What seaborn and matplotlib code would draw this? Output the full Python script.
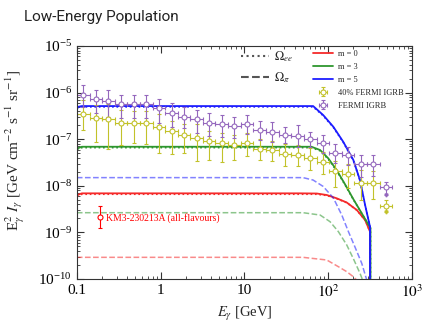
import numpy as np
import matplotlib
matplotlib.use("Agg")
import matplotlib.pyplot as plt
import seaborn as sns
from matplotlib.lines import Line2D
from matplotlib.ticker import FixedLocator, FixedFormatter, LogLocator, NullFormatter

# =========================
# Model curves (E in GeV, E^2 I in GeV cm^-2 s^-1 sr^-1)
# =========================
# solid = total, dotted = Omega_ee part, dashed = Omega_pi part
m0_E = [0.1, 0.115, 1, 10, 46, 73, 96, 126, 166, 219, 275, 315, 315]
m0_tot = [6.3e-9, 6.9e-9, 6.9e-9, 6.9e-9, 6.9e-9, 6.84e-9, 6.35e-9, 5.4e-9, 4.39e-9, 3.03e-9, 1.85e-9, 1.04e-9, 1e-11]
m0_ee = [6.0e-9, 6.6e-9, 6.6e-9, 6.6e-9, 6.6e-9, 6.6e-9, 6.2e-9, 5.3e-9, 4.35e-9, 3.0e-9, 1.84e-9, 1.04e-9, 1e-11]
m0_pi_E = [0.1, 50, 96, 132, 166, 199, 229, 250]
m0_pi = [2.92e-10, 2.92e-10, 2.56e-10, 1.84e-10, 1.44e-10, 1.12e-10, 8.7e-11, 6e-11]

m3_E = [0.1, 0.115, 1, 10, 40, 63, 80, 100, 126, 158, 199, 251, 319, 319]
m3_tot = [6.3e-8, 6.9e-8, 6.9e-8, 6.9e-8, 6.9e-8, 6.9e-8, 5.86e-8, 3.89e-8, 2.18e-8, 1.09e-8, 5.2e-9, 2.57e-9, 1.24e-9, 1e-11]
m3_ee = [6.0e-8, 6.6e-8, 6.6e-8, 6.6e-8, 6.6e-8, 6.6e-8, 5.65e-8, 3.75e-8, 2.1e-8, 1.06e-8, 5.1e-9, 2.55e-9, 1.24e-9, 1e-11]
m3_pi_E = [0.1, 50, 80, 105, 132, 166, 199, 239, 262]
m3_pi = [2.65e-9, 2.65e-9, 2.36e-9, 1.7e-9, 1.04e-9, 5.4e-10, 2.75e-10, 1.33e-10, 8.7e-11]

m5_E = [0.1, 0.115, 1, 10, 40, 66, 87, 115, 151, 199, 239, 275, 315, 315]
m5_tot = [4.9e-7, 5.15e-7, 5.15e-7, 5.15e-7, 5.15e-7, 5.15e-7, 3.3e-7, 1.85e-7, 8.8e-8, 3.6e-8, 1.33e-8, 3.9e-9, 1.32e-9, 1e-11]
m5_ee = [4.7e-7, 4.95e-7, 4.95e-7, 4.95e-7, 4.95e-7, 4.95e-7, 3.2e-7, 1.8e-7, 8.6e-8, 3.55e-8, 1.31e-8, 3.85e-9, 1.31e-9, 1e-11]
m5_pi_E = [0.1, 50, 66, 87, 115, 145, 174, 208, 251, 288]
m5_pi = [1.5e-8, 1.5e-8, 1.33e-8, 9.7e-9, 5.5e-9, 2.36e-9, 1.04e-9, 4.9e-10, 2.17e-10, 9.5e-11]

# =========================
# Fermi IGRB data
# =========================
igrb_edges = [0.100, 0.142, 0.200, 0.284, 0.400, 0.568, 0.800, 1.135, 1.600, 2.26, 3.2, 4.5, 6.4,
              9.0, 12.8, 18.1, 25.6, 36.2, 51.2, 72.4, 102, 145, 205, 290, 410, 580]
igrb = [8.87e-7, 7.30e-7, 6.70e-7, 5.69e-7, 5.61e-7, 5.69e-7, 4.60e-7, 3.71e-7, 3.04e-7, 2.71e-7,
        2.26e-7, 2.09e-7, 1.92e-7, 2.12e-7, 1.57e-7, 1.45e-7, 1.23e-7, 1.17e-7, 9.95e-8, 8.17e-8,
        5.13e-8, 4.58e-8, 2.89e-8, 2.89e-8, 9.29e-9]
igrb_up_dex = [0.21, 0.2, 0.22, 0.2, 0.2, 0.2, 0.2, 0.2, 0.2, 0.2, 0.2, 0.2, 0.2, 0.2, 0.2, 0.2,
               0.18, 0.23, 0.16, 0.18, 0.18, 0.18, 0.19, 0.2, 0.12]
igrb_dn_dex = [0.25, 0.3, 0.35, 0.3, 0.3, 0.3, 0.32, 0.3, 0.25, 0.3, 0.28, 0.28, 0.25, 0.22, 0.22,
               0.23, 0.18, 0.24, 0.16, 0.21, 0.21, 0.21, 0.27, 0.26, 0.16]

igrb40 = [3.55e-7, 2.92e-7, 2.68e-7, 2.28e-7, 2.24e-7, 2.28e-7, 1.84e-7, 1.48e-7, 1.22e-7, 1.08e-7,
          9.0e-8, 8.4e-8, 7.7e-8, 8.5e-8, 6.3e-8, 5.8e-8, 4.9e-8, 4.7e-8, 4.0e-8, 3.3e-8,
          2.05e-8, 1.83e-8, 1.16e-8, 1.16e-8, 3.7e-9]
igrb40_up_dex = [0.29, 0.27, 0.32, 0.27, 0.25, 0.25, 0.27, 0.23, 0.25, 0.3, 0.22, 0.22, 0.2, 0.2,
                 0.2, 0.2, 0.2, 0.2, 0.2, 0.2, 0.23, 0.2, 0.27, 0.26, 0.13]
igrb40_dn_dex = [0.36, 0.52, 0.64, 0.49, 0.43, 0.45, 0.55, 0.49, 0.38, 0.49, 0.41, 0.41, 0.34, 0.28,
                 0.25, 0.23, 0.26, 0.24, 0.27, 0.26, 0.34, 0.3, 0.37, 0.34, 0.12]

# KM3NeT event
km3_E = [0.19]
km3_I = [2.1e-9]
km3_lo = [1.26e-9]
km3_hi = [3.7e-9]

x_ticks = [0.1, 1, 10, 100, 1000]
x_ticklabels = ["0.1", "1", "10", "$10^2$", "$10^3$"]

# =========================
# Style
# =========================
sns.set_theme(style="ticks")
plt.rcParams["font.family"] = ["Liberation Serif", "DejaVu Serif"]
plt.rcParams["mathtext.fontset"] = "stix"

c_red = "#f52a2a"
c_green = "#2e962e"
c_blue = "#1c1cff"
c_olive = "#c2c22a"
c_purple = "#9467bd"

fig = plt.figure(figsize=(4.27, 3.22), dpi=100)
fig.patch.set_facecolor("white")
ax = fig.add_axes([0.180, 0.1335, 0.785, 0.7235])
ax.set_xscale("log")
ax.set_yscale("log")

curves = [
    (m0_E, m0_tot, m0_ee, m0_pi_E, m0_pi, c_red),
    (m3_E, m3_tot, m3_ee, m3_pi_E, m3_pi, c_green),
    (m5_E, m5_tot, m5_ee, m5_pi_E, m5_pi, c_blue),
]
line_handles = []
for E, tot, ee, Epi, pi, col in curves:
    sns.lineplot(x=Epi, y=pi, ax=ax, color=col, lw=1.1, linestyle="--", alpha=0.55,
                 estimator=None, sort=False)
    sns.lineplot(x=E, y=ee, ax=ax, color=col, lw=1.2, linestyle=":",
                 estimator=None, sort=False)
    sns.lineplot(x=E, y=tot, ax=ax, color=col, lw=1.3, estimator=None, sort=False)
    line_handles.append(Line2D([], [], color=col, lw=1.3))

# IGRB points
edges = np.array(igrb_edges)
E_lo, E_hi = edges[:-1], edges[1:]
E_c = np.sqrt(E_lo * E_hi)
xerr = [E_c - E_lo, E_hi - E_c]

err_handles = []
for vals, up, dn, col in [(igrb40, igrb40_up_dex, igrb40_dn_dex, c_olive),
                          (igrb, igrb_up_dex, igrb_dn_dex, c_purple)]:
    y = np.array(vals)
    ylo = y * 10 ** (-np.array(dn))
    yhi = y * 10 ** np.array(up)
    h = ax.errorbar(E_c, y, xerr=xerr, yerr=[y - ylo, yhi - y], fmt="o", color=col,
                    mfc="white", mec=col, ms=3.6, mew=0.8, elinewidth=0.8,
                    capsize=1.3, capthick=0.8)
    ax.plot(E_c[-1:], ylo[-1:], marker="v", color=col, ms=2.2, ls="none")
    err_handles.append(h)

# KM3 event
ax.errorbar(km3_E, km3_I,
            yerr=[[km3_I[0] - km3_lo[0]], [km3_hi[0] - km3_I[0]]],
            fmt="o", color="red", mfc="white", mec="red", ms=3.6, mew=0.8,
            elinewidth=0.8, capsize=1.3, capthick=0.8)
ax.text(0.222, 2.05e-9, "KM3-230213A (all-flavours)", color="red", fontsize=7, va="center")

# =========================
# Axes
# =========================
ax.set_xlim(0.1, 1000)
ax.set_ylim(1e-10, 1e-5)
ax.xaxis.set_major_locator(FixedLocator(x_ticks))
ax.xaxis.set_major_formatter(FixedFormatter(x_ticklabels))
ax.xaxis.set_minor_locator(LogLocator(base=10, subs=np.arange(2, 10), numticks=50))
ax.xaxis.set_minor_formatter(NullFormatter())
ax.yaxis.set_major_locator(LogLocator(base=10, numticks=20))
ax.yaxis.set_minor_locator(LogLocator(base=10, subs=np.arange(2, 10), numticks=50))
ax.yaxis.set_minor_formatter(NullFormatter())
ax.tick_params(which="both", direction="in", top=True, right=True, colors="#333333",
               labelcolor="black", labelsize=11)
ax.tick_params(which="major", length=5, width=0.8)
ax.tick_params(which="minor", length=2.5, width=0.6)
for s in ax.spines.values():
    s.set_color("#333333")
    s.set_linewidth(0.8)

ax.set_xlabel(r"$E_\gamma$ [GeV]", fontsize=10.5, labelpad=3)
ax.set_ylabel(r"E$_\gamma^2$ $I_\gamma$ [GeV cm$^{-2}$ s$^{-1}$ sr$^{-1}$]", fontsize=11, labelpad=1)
ax.yaxis.set_label_coords(-0.148, 0.55)

# legends
leg1 = ax.legend([Line2D([], [], color="#555555", ls=":", lw=1.5),
                  Line2D([], [], color="#555555", ls="--", lw=1.5)],
                 [r"$\Omega_{ee}$", r"$\Omega_{\pi}$"],
                 loc="upper left", bbox_to_anchor=(0.49, 0.985), frameon=False,
                 fontsize=9, handlelength=2.2, handletextpad=0.4, labelspacing=0.45,
                 borderpad=0, borderaxespad=0)
ax.add_artist(leg1)
ax.legend(line_handles + err_handles,
          ["m = 0", "m = 3", "m = 5", "40% FERMI IGRB", "FERMI IGRB"],
          loc="upper left", bbox_to_anchor=(0.705, 0.985), frameon=False,
          fontsize=6, handlelength=2.4, handletextpad=0.6, labelspacing=0.6,
          borderpad=0, borderaxespad=0)

fig.text(0.056, 0.947, "Low-Energy Population", family="Roboto", fontsize=11,
         color="#222222", va="center", ha="left")

fig.savefig("out.png", dpi=100)
plt.close(fig)
